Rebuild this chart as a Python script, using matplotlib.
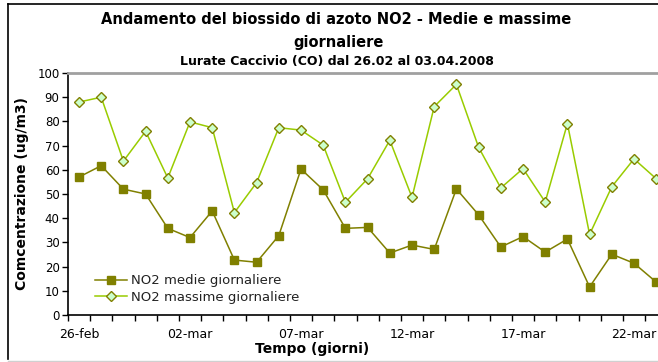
import numpy as np
import matplotlib
matplotlib.use('Agg')
import matplotlib.pyplot as plt
from matplotlib.lines import Line2D

# daily NO2 values, Lurate Caccivio, from 26-feb-2008
giorni = ['26-feb', '27-feb', '28-feb', '29-feb', '01-mar', '02-mar', '03-mar',
          '04-mar', '05-mar', '06-mar', '07-mar', '08-mar', '09-mar', '10-mar',
          '11-mar', '12-mar', '13-mar', '14-mar', '15-mar', '16-mar', '17-mar',
          '18-mar', '19-mar', '20-mar', '21-mar', '22-mar', '23-mar']
medie = [57, 61.7, 52, 50, 35.8, 32, 43, 22.7, 21.8, 32.8, 60.3, 51.7, 35.8, 36.2,
         25.6, 28.9, 27.1, 52.1, 41.4, 28.1, 32.4, 26, 31.4, 11.6, 25.1, 21.4, 13.6]
massime = [88, 90, 63.6, 75.9, 56.6, 79.8, 77.4, 42.3, 54.7, 77.4, 76.4, 70.2, 46.6, 56.3,
           72.2, 48.6, 86.1, 95.3, 69.3, 52.5, 60.5, 46.7, 79.1, 33.3, 53, 64.5, 56.3]
yticks = list(range(0, 101, 10))

W, H = 658, 362
fig = plt.figure(figsize=(W / 100, H / 100), dpi=100)

# plot area runs past the right edge of the figure
x0, y0, y1 = 67.9, 315, 73
step = 22.2
n = len(giorni)
ax = fig.add_axes([x0 / W, 1 - y0 / H, n * step / W, (y0 - y1) / H])

x = np.arange(n)
ax.plot(x, medie, color='#808000', lw=1.1, marker='s', ms=5.8, mfc='#808000',
        mec='#808000', label='NO2 medie giornaliere', clip_on=False, zorder=3)
ax.plot(x, massime, color='#99CC00', lw=1.1, marker='D', ms=4.6, mfc='#CCFFCC',
        mec='#808000', mew=1, label='NO2 massime giornaliere', clip_on=False, zorder=3)

ax.set_xlim(-0.5, n - 0.5)
ax.set_ylim(0, 100)
ax.set_yticks(yticks)
ax.set_yticklabels([str(v) for v in yticks], fontsize=8.5, family='DejaVu Sans')
ax.tick_params(axis='y', length=4, width=1, direction='out', pad=2)

lab_idx = list(range(0, n, 5))
ax.set_xticks(lab_idx)
ax.set_xticklabels([giorni[i] for i in lab_idx], fontsize=9,
                   family=['Liberation Sans Narrow', 'DejaVu Sans'])
ax.set_xticks(np.arange(-0.5, n, 1), minor=True)
ax.tick_params(axis='x', which='major', length=0, pad=9)
ax.tick_params(axis='x', which='minor', length=4, width=1, direction='out')

for s in ['left', 'bottom']:
    ax.spines[s].set_color('black')
    ax.spines[s].set_linewidth(1.2)
ax.spines['top'].set_color('#A0A0A0')
ax.spines['top'].set_linewidth(2)
ax.spines['right'].set_visible(False)

leg = ax.legend(loc='lower left', bbox_to_anchor=(22 / (n * step), 0.025),
                frameon=False, fontsize=9.5, handlelength=2.4, handletextpad=0.3,
                labelspacing=0.25, borderaxespad=0)
for t in leg.get_texts():
    t.set_color('#222222')

ax.set_ylabel('Comcentrazione (ug/m3)', fontsize=10, fontweight='bold', labelpad=6)

fig.text(312 / W, 1 - 349 / H, 'Tempo (giorni)', ha='center', va='center',
         fontsize=10, fontweight='bold')
fig.text(336 / W, 1 - 20 / H, 'Andamento del biossido di azoto NO2 - Medie e massime',
         ha='center', va='center', fontsize=10.5, fontweight='bold')
fig.text(339 / W, 1 - 42 / H, 'giornaliere', ha='center', va='center',
         fontsize=10.5, fontweight='bold')
fig.text(337 / W, 1 - 62 / H, 'Lurate Caccivio (CO) dal 26.02 al 03.04.2008',
         ha='center', va='center', fontsize=9, fontweight='bold')

# chart area border
fig.add_artist(Line2D([7.5 / W, 7.5 / W], [1 - 3.5 / H, 1 - 359 / H], color='black', lw=1.2))
fig.add_artist(Line2D([7.5 / W, 1], [1 - 3.5 / H, 1 - 3.5 / H], color='black', lw=1.2))
fig.add_artist(Line2D([7.5 / W, 1], [1 - 360.5 / H, 1 - 360.5 / H], color='#D0D0D0', lw=1))

fig.savefig('out.png', dpi=100)
